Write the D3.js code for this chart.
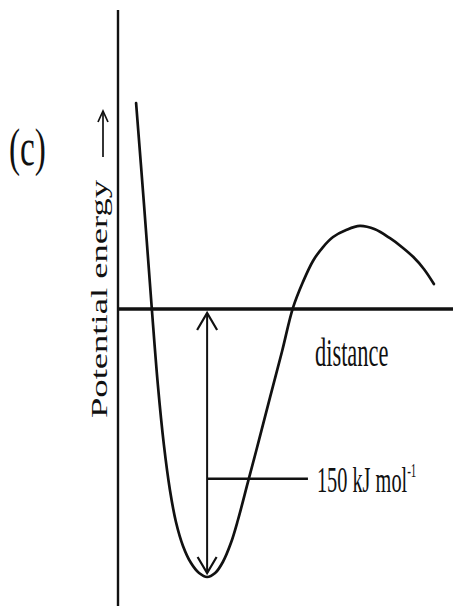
<!DOCTYPE html>
<html>
<head>
<meta charset="utf-8">
<script src="https://cdn.jsdelivr.net/npm/d3@7/dist/d3.min.js"></script>
<style>
  html, body { margin: 0; padding: 0; background: #fff; }
  svg { display: block; }
  text { font-family: "Liberation Serif", "DejaVu Serif", serif; fill: #111; }
</style>
</head>
<body>
<svg id="chart" width="453" height="606"></svg>
<script>
// Potential energy curve (distance in arbitrary units, energy in kJ/mol)
const distance = [0.54, 0.78, 1.01, 1.19, 1.37, 1.55, 1.73, 1.94, 2.18, 2.42, 2.66,
                  2.90, 3.13, 3.37, 3.58, 3.88, 4.21, 4.54, 4.90, 5.22, 5.52, 5.82,
                  6.12, 6.42, 6.81, 7.22, 7.67, 8.12, 8.48, 8.81, 9.13, 9.43];
const energy   = [115.3, 57.6, 0, -42.5, -76.1, -101.3, -119.2, -132.6, -142.2, -147.8, -150,
                  -147.8, -141.6, -131.0, -118.1, -96.8, -73.3, -49.3, -23.5, 0.5, 15.1, 26.9,
                  34.7, 40.3, 44.2, 46.5, 44.6, 39.6, 34.6, 29.2, 22.4, 14.0];
const wellDistance = 2.66;   // position of the minimum
const wellDepth = -150;      // kJ/mol
const leaderEnergy = -95;    // height of the label leader line
const leaderEnd = 5.67;      // distance where the leader line ends
const panelLabel = "(c)";
const yAxisLabel = "Potential energy";
const xAxisLabel = "distance";
const depthLabel = "150 kJ mol";
const depthLabelSup = "-1";

const svg = d3.select("#chart");
const x = d3.scaleLinear().domain([0, 10]).range([118, 453]);
const y = d3.scaleLinear().domain([0, -150]).range([309, 577]);

// vertical axis
svg.append("line")
  .attr("x1", x(0)).attr("x2", x(0))
  .attr("y1", 10).attr("y2", 606)
  .attr("stroke", "#111").attr("stroke-width", 2.4);

// horizontal (distance) axis at E = 0
svg.append("line")
  .attr("x1", x(0)).attr("x2", x(10))
  .attr("y1", y(0)).attr("y2", y(0))
  .attr("stroke", "#111").attr("stroke-width", 3.4);

// curve
const pts = distance.map((d, i) => [d, energy[i]]);
const line = d3.line().x(d => x(d[0])).y(d => y(d[1])).curve(d3.curveCatmullRom.alpha(0.5));
svg.append("path")
  .attr("d", line(pts))
  .attr("fill", "none")
  .attr("stroke", "#111")
  .attr("stroke-width", 2.7)
  .attr("stroke-linecap", "round")
  .attr("stroke-linejoin", "round");

// double arrow for well depth
const ax = x(wellDistance);
const yTop = y(0) + 4, yBot = y(wellDepth) - 4;
svg.append("line")
  .attr("x1", ax).attr("x2", ax).attr("y1", yTop).attr("y2", yBot)
  .attr("stroke", "#111").attr("stroke-width", 2);
svg.append("path")
  .attr("d", `M${ax - 10},${yTop + 17} L${ax},${yTop} L${ax + 10},${yTop + 17}`)
  .attr("fill", "none").attr("stroke", "#111").attr("stroke-width", 2.2);
svg.append("path")
  .attr("d", `M${ax - 9.5},${yBot - 16} L${ax},${yBot} L${ax + 9.5},${yBot - 16}`)
  .attr("fill", "none").attr("stroke", "#111").attr("stroke-width", 2.2);

// leader line to label
svg.append("line")
  .attr("x1", ax).attr("x2", x(leaderEnd))
  .attr("y1", y(leaderEnergy)).attr("y2", y(leaderEnergy))
  .attr("stroke", "#111").attr("stroke-width", 2.6);

// depth label
const dl = svg.append("text")
  .attr("transform", `translate(${x(leaderEnd) + 9},${y(leaderEnergy) + 13}) scale(0.58,1)`)
  .attr("font-size", 35);
dl.append("tspan").text(depthLabel);
dl.append("tspan").attr("font-size", 19).attr("dy", -15).text(depthLabelSup);

// x axis label
svg.append("text")
  .attr("transform", `translate(315,366) scale(0.56,1)`)
  .attr("font-size", 40)
  .text(xAxisLabel);

// panel label
svg.append("text")
  .attr("transform", `translate(9,165) scale(0.64,1)`)
  .attr("font-size", 52)
  .text(panelLabel);

// y axis label (rotated)
svg.append("text")
  .attr("transform", `translate(107,418) scale(0.62,1) rotate(-90)`)
  .attr("font-size", 36.6)
  .text(yAxisLabel);

// arrow after y label
svg.append("line")
  .attr("x1", 103).attr("x2", 103).attr("y1", 157).attr("y2", 111)
  .attr("stroke", "#111").attr("stroke-width", 1.7);
svg.append("path")
  .attr("d", "M98,122 L103,111 L108,122")
  .attr("fill", "none").attr("stroke", "#111").attr("stroke-width", 1.7);
</script>
</body>
</html>
